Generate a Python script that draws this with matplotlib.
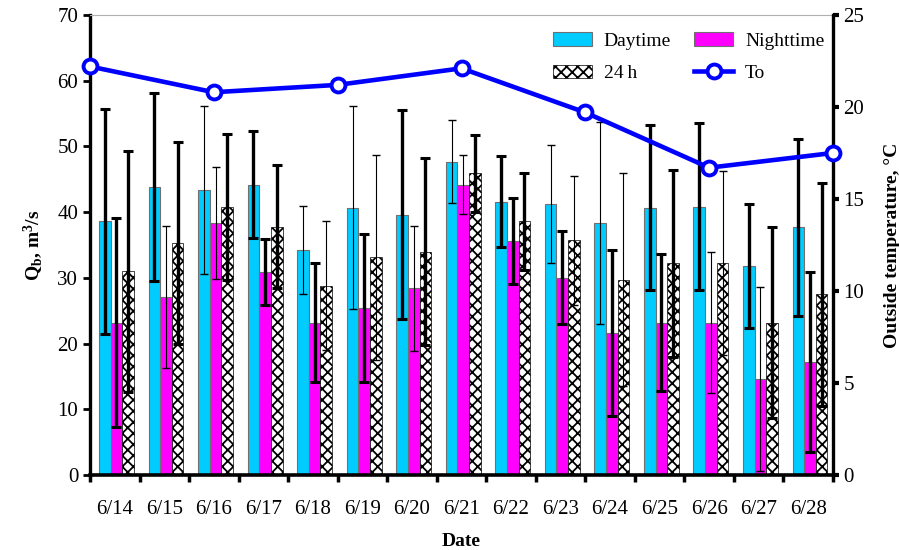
import matplotlib
matplotlib.use('Agg')
import matplotlib.pyplot as plt
import numpy as np

plt.rcParams['font.family'] = 'Liberation Serif'
plt.rcParams['mathtext.default'] = 'regular'
plt.rcParams['hatch.linewidth'] = 1.3

dates = ['6/14', '6/15', '6/16', '6/17', '6/18', '6/19', '6/20', '6/21',
         '6/22', '6/23', '6/24', '6/25', '6/26', '6/27', '6/28']

# mean flow and error (m3/s)
day = [38.6, 43.8, 43.4, 44.2, 34.3, 40.7, 39.6, 47.7, 41.6, 41.2, 38.3, 40.7, 40.8, 31.8, 37.7]
day_err = [17.1, 14.3, 12.8, 8.2, 6.7, 15.4, 15.9, 6.3, 6.9, 9.0, 15.4, 12.5, 12.7, 9.5, 13.5]
night = [23.2, 27.1, 38.3, 30.9, 23.2, 25.4, 28.4, 44.2, 35.6, 30.0, 21.6, 23.2, 23.2, 14.6, 17.2]
night_err = [15.9, 10.8, 8.5, 5.0, 9.1, 11.3, 9.5, 4.5, 6.6, 7.1, 12.7, 10.4, 10.7, 14.0, 13.7]
full = [31.0, 35.3, 40.8, 37.8, 28.8, 33.1, 34.0, 45.9, 38.6, 35.7, 29.7, 32.2, 32.2, 23.2, 27.5]
full_err = [18.3, 15.3, 11.1, 9.3, 9.8, 15.6, 14.2, 5.9, 7.4, 9.8, 16.2, 14.2, 14.0, 14.6, 17.0]

# which error bars are drawn heavy in the original
day_thick = [1, 1, 0, 1, 0, 0, 1, 0, 1, 0, 0, 1, 1, 1, 1]
night_thick = [1, 0, 0, 1, 1, 1, 0, 0, 1, 1, 1, 1, 0, 0, 1]
full_thick = [1, 1, 1, 1, 0, 0, 1, 1, 1, 0, 0, 1, 0, 1, 1]

# outside temperature (C)
temp_dates = ['6/14', '6/16', '6/19', '6/21', '6/23', '6/26', '6/28']
temp = [22.2, 20.8, 21.2, 22.1, 19.7, 16.7, 17.5]

x = np.arange(len(dates))
w = 0.235

fig = plt.figure(figsize=(8.99, 5.5), dpi=100)
ax = fig.add_axes([0.1001, 0.1364, 0.8265, 0.8364])

b1 = ax.bar(x - 0.2, day, w, color='#00ccff', edgecolor='#707070', linewidth=0.8, zorder=2)
b2 = ax.bar(x + 0.035, night, w, color='#ff00ff', edgecolor='#707070', linewidth=0.8, zorder=2)
b3 = ax.bar(x + 0.27, full, w, color='white', edgecolor='black', linewidth=0.5, hatch='xxx', zorder=2)

for offs, vals, errs, thick in [(-0.2, day, day_err, day_thick),
                                (0.035, night, night_err, night_thick),
                                (0.27, full, full_err, full_thick)]:
    vals = np.array(vals)
    errs = np.array(errs)
    m = np.array(thick, dtype=bool)
    ax.errorbar(x[m] + offs, vals[m], yerr=errs[m], fmt='none', ecolor='black',
                elinewidth=2.4, capsize=3.6, capthick=2.2, zorder=3)
    ax.errorbar(x[~m] + offs, vals[~m], yerr=errs[~m], fmt='none', ecolor='black',
                elinewidth=0.8, capsize=3.2, capthick=1.0, zorder=3)

ax.set_xlim(-0.5, 14.5)
ax.set_ylim(0, 70)
ax.set_yticks(range(0, 71, 10))
ax.set_xticks(x)
ax.set_xticklabels(dates)
ax.set_xticks(np.arange(-0.5, 15, 1), minor=True)
ax.tick_params(axis='x', which='major', length=0, pad=18, labelsize=15)
ax.tick_params(axis='x', which='minor', length=5, width=2.5, direction='out')
ax.tick_params(axis='y', length=5, width=2, labelsize=15, direction='out')
ax.spines['left'].set_linewidth(2.4)
ax.spines['bottom'].set_linewidth(2.6)
ax.spines['top'].set_color('#b0b0b0')
ax.spines['top'].set_linewidth(0.8)
ax.spines['right'].set_visible(False)
ax.set_xlabel('Date', fontweight='bold', fontsize=14, labelpad=10)
ax.set_ylabel(r'Q$_b$, m$^3$/s', fontweight='bold', fontsize=14, labelpad=8)

ax2 = ax.twinx()
ax2.set_ylim(0, 25)
ax2.set_yticks(range(0, 26, 5))
ax2.tick_params(axis='y', length=4, width=3, labelsize=15, direction='out')
for s in ['left', 'top', 'bottom']:
    ax2.spines[s].set_visible(False)
ax2.spines['right'].set_linewidth(2.4)
ax2.set_ylabel('Outside temperature, \u00b0C', fontweight='bold', fontsize=14, labelpad=14)

# temperature samples are spread evenly over the full width
ax3 = ax2.twiny()
ax3.set_xlim(0, len(temp) - 1)
ln, = ax3.plot(range(len(temp)), temp, color='#0000ff', lw=3.3, marker='o',
               markersize=10, markerfacecolor='white', markeredgecolor='#0000ff',
               markeredgewidth=2.8, clip_on=False, zorder=5)
ax3.set_xticks([])
for s in ax3.spines.values():
    s.set_visible(False)

ax3.legend([b1, b3, b2, ln], ['Daytime', '24\u2009h', 'Nighttime', 'To'], ncol=2,
           frameon=False, fontsize=14, loc='upper left', bbox_to_anchor=(0.60, 1.0),
           handlelength=2.0, handleheight=0.7, handletextpad=0.6,
           columnspacing=1.2, labelspacing=0.75)

fig.savefig('out.png', dpi=100)
